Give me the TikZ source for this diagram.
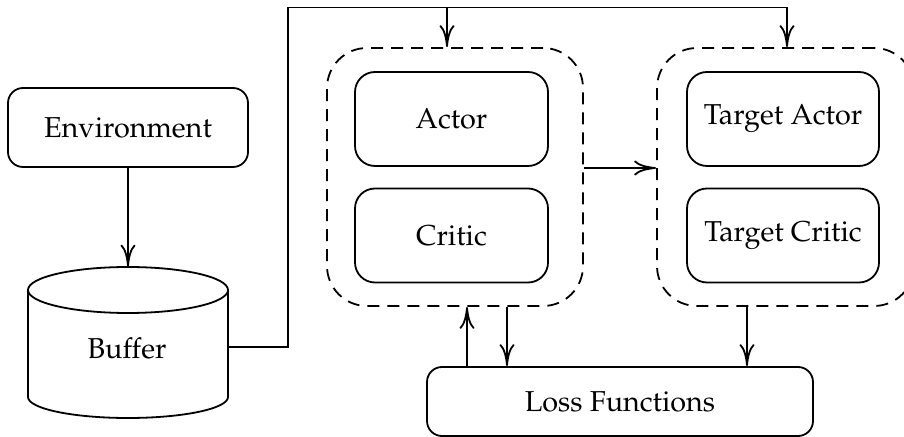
\documentclass[tikz,border=0pt]{standalone}
\usepackage[T1]{fontenc}
\usepackage{mathpazo}
\usetikzlibrary{arrows.meta}

\tikzset{
  every node/.style={font=\fontsize{14.4}{17}\selectfont},
  block/.style={draw, rounded corners=7.5pt, line width=0.9pt, align=center},
  netbox/.style={draw, rounded corners=10pt, line width=0.9pt,
                 minimum width=96.5pt, minimum height=47pt},
  group/.style={draw, dashed, dash pattern=on 6pt off 4pt, rounded corners=20pt,
                line width=0.9pt, minimum width=128pt, minimum height=129pt},
  flow/.style={line width=0.9pt, -{Computer Modern Rightarrow[length=11pt,width=7.5pt]}},
  wire/.style={line width=0.9pt},
}

\begin{document}
\begin{tikzpicture}[x=0.5pt, y=-0.5pt]
  \path[use as bounding box] (0,0) rectangle (904,437);
  \clip (0,0) rectangle (904,437);

  % environment and replay buffer
  \node[block, minimum width=120pt, minimum height=39.5pt] (env) at (128,127.5) {Environment};
  \node[minimum width=100pt, minimum height=80pt, inner sep=0pt] (buf) at (128,347) {};
  \node at (127,348) {Buffer};
  \draw[line width=0.9pt]
    (128,290) ellipse [x radius=50pt, y radius=11.5pt]
    (28,290) -- (28,397)
    arc[start angle=180, end angle=360, x radius=50pt, y radius=10.5pt]
    -- (228,290);

  % online networks
  \node[group] (grp1) at (455,177) {};
  \node[netbox] (actor) at (451.5,119) {Actor};
  \node[netbox] (critic) at (451.5,235.5) {Critic};

  % target networks
  \node[group, minimum width=128.5pt] (grp2) at (785.5,177) {};
  \node[netbox, minimum width=96pt] (tactor) at (783,119) {Target Actor};
  \node[netbox, minimum width=96pt] (tcritic) at (783,235.5) {Target Critic};

  % losses
  \node[block, minimum width=193pt, minimum height=34.5pt] (loss) at (620,401.5) {Loss Functions};

  % routing points
  \coordinate (up) at (288,7.5);
  \coordinate (split) at (447,7.5);
  \coordinate (corner) at (787,7.5);
  \coordinate (mid) at (0,168);
  \coordinate (fb) at (467,0);
  \coordinate (l1) at (507,0);
  \coordinate (l2) at (747,0);

  % connectors
  \draw[flow] (env) -- (buf.north);
  \draw[wire] (buf.east) -| (up) -- (corner);
  \draw[flow] (corner) -- (corner |- grp2.north);
  \draw[flow] (split) -- (split |- grp1.north);
  \draw[flow] (grp1.east |- mid) -- (grp2.west |- mid);
  \draw[flow] (fb |- loss.north) -- (fb |- grp1.south);
  \draw[flow] (l1 |- grp1.south) -- (l1 |- loss.north);
  \draw[flow] (l2 |- grp2.south) -- (l2 |- loss.north);
\end{tikzpicture}
\end{document}
